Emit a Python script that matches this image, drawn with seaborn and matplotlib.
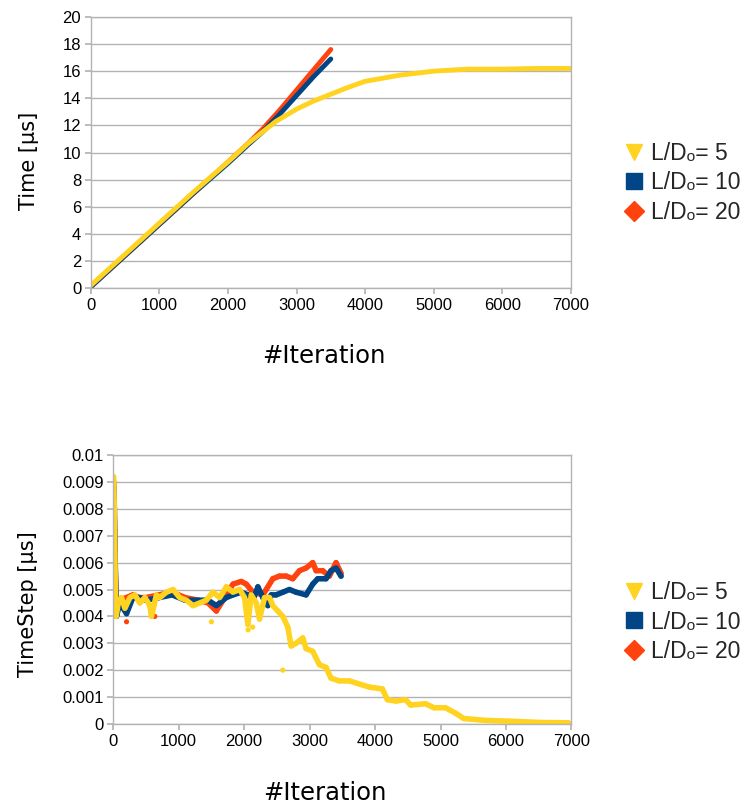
import numpy as np
import pandas as pd
import matplotlib
matplotlib.use("Agg")
import matplotlib.pyplot as plt
import seaborn as sns
from matplotlib.lines import Line2D

# ---------------- data ----------------
series_names = ["L/D\u2092= 5", "L/D\u2092= 10", "L/D\u2092= 20"]
colors = ["#ffd320", "#004586", "#ff420e"]
markers = ["v", "s", "D"]

# Top chart: Time [µs] vs iteration
it5_time = [0, 500, 1000, 1500, 2000, 2300, 2500, 2700, 3000, 3250, 3500, 3750, 4000, 4500, 5000, 5500, 6000, 6500, 7000]
t5_time = [0.2, 2.5, 4.8, 7.1, 9.3, 10.7, 11.5, 12.3, 13.2, 13.8, 14.3, 14.8, 15.25, 15.7, 16.0, 16.15, 16.15, 16.2, 16.2]
it10_time = [0, 500, 1000, 1500, 2000, 2300, 2500, 2750, 3000, 3250, 3500]
t10_time = [0.1, 2.4, 4.7, 7.0, 9.2, 10.6, 11.5, 12.8, 14.2, 15.6, 16.9]
it20_time = [0, 500, 1000, 1500, 2000, 2300, 2500, 2750, 3000, 3250, 3500]
t20_time = [0.1, 2.4, 4.7, 7.0, 9.3, 10.7, 11.7, 13.1, 14.6, 16.1, 17.6]

# Bottom chart: TimeStep [µs] vs iteration
it5_dt = [5, 10, 15, 20, 25, 30, 35, 45, 76, 127, 178, 254, 330, 406, 483, 559, 584, 660, 711,
          813, 914, 1016, 1118, 1219, 1321, 1422, 1524, 1626, 1727, 1829, 1930, 2007, 2057, 2108,
          2184, 2235, 2311, 2388, 2438, 2515, 2591, 2667, 2718, 2794, 2896, 2946, 3048, 3150,
          3251, 3327, 3454, 3607, 3909, 4112, 4188, 4315, 4467, 4543, 4772, 4899, 5076, 5228,
          5355, 5685, 6040, 6548, 6954]
dt5 = [0.0092, 0.0090, 0.0082, 0.0072, 0.0065, 0.0055, 0.0048, 0.0040, 0.0045, 0.0047, 0.0043,
       0.0047, 0.0048, 0.0045, 0.0047, 0.0044, 0.0040, 0.0048, 0.0047, 0.0049, 0.0050, 0.0047,
       0.0046, 0.0044, 0.0045, 0.0046, 0.0049, 0.0047, 0.0051, 0.0049, 0.0050, 0.0047, 0.0037,
       0.0048, 0.0045, 0.0039, 0.0047, 0.0047, 0.0044, 0.0042, 0.0040, 0.0036, 0.0029, 0.0030,
       0.0032, 0.0028, 0.0027, 0.0022, 0.0021, 0.0017, 0.0016, 0.0016, 0.00137, 0.0013, 0.0009,
       0.00085, 0.0009, 0.0007, 0.00075, 0.0006, 0.0006, 0.0004, 0.0002, 0.00013, 0.0001,
       0.00005, 0.00004]
it5_out = [1500, 2590, 2060, 2130]
dt5_out = [0.0038, 0.0020, 0.0035, 0.0036]

it10_dt = [5, 10, 15, 20, 30, 50, 100, 203, 300, 400, 500, 700, 900, 1100, 1300, 1450, 1575,
           1727, 1829, 1956, 2057, 2134, 2210, 2286, 2362, 2413, 2489, 2591, 2692, 2794, 2946,
           3048, 3124, 3251, 3327, 3404, 3480]
dt10 = [0.0090, 0.0088, 0.0083, 0.0075, 0.0060, 0.0040, 0.0045, 0.0041, 0.0047, 0.0047, 0.0046,
        0.0047, 0.0048, 0.0046, 0.0046, 0.0046, 0.0044, 0.0047, 0.0048, 0.0049, 0.0048, 0.0046,
        0.0051, 0.0047, 0.0044, 0.0048, 0.0048, 0.0049, 0.0050, 0.0049, 0.0048, 0.0052, 0.0054,
        0.0054, 0.0057, 0.0058, 0.0055]

it20_dt = [5, 10, 15, 20, 30, 50, 100, 300, 400, 500, 700, 900, 1100, 1300, 1450, 1575, 1727,
           1829, 1956, 2032, 2134, 2286, 2337, 2438, 2540, 2642, 2743, 2845, 2946, 3048, 3099,
           3200, 3302, 3404, 3480]
dt20 = [0.0088, 0.0086, 0.0080, 0.0072, 0.0058, 0.0042, 0.0046, 0.0048, 0.0047, 0.0047, 0.0048,
        0.0049, 0.0047, 0.0046, 0.0045, 0.0042, 0.0048, 0.0052, 0.0053, 0.0052, 0.0049, 0.0048,
        0.0050, 0.0054, 0.0055, 0.0055, 0.0054, 0.0057, 0.0058, 0.0060, 0.0057, 0.0057, 0.0055,
        0.0060, 0.0056]
it20_out = [203, 635]
dt20_out = [0.0038, 0.0040]

x_ticks = [0, 1000, 2000, 3000, 4000, 5000, 6000, 7000]
y_ticks_top = [0, 2, 4, 6, 8, 10, 12, 14, 16, 18, 20]
y_ticks_bot = [0, 0.001, 0.002, 0.003, 0.004, 0.005, 0.006, 0.007, 0.008, 0.009, 0.01]
y_tick_labels_bot = ["0", "0.001", "0.002", "0.003", "0.004", "0.005", "0.006", "0.007",
                     "0.008", "0.009", "0.01"]

# ---------------- plotting ----------------
sns.set_theme(style="white")
plt.rcParams["font.family"] = ["Liberation Sans", "DejaVu Sans"]

W, H = 745, 807
fig = plt.figure(figsize=(W / 100, H / 100), dpi=100)
ax1 = fig.add_axes([0.122, 0.643, 0.644, 0.336])
ax2 = fig.add_axes([0.152, 0.103, 0.615, 0.333])

grid_c = "#b3b3b3"

def style_axes(ax):
    ax.yaxis.grid(True, color=grid_c, linewidth=1.0)
    ax.xaxis.grid(False)
    ax.set_axisbelow(True)
    for s in ax.spines.values():
        s.set_color(grid_c)
        s.set_linewidth(1.0)
    ax.tick_params(axis="both", which="both", direction="out", length=4, color=grid_c,
                   labelsize=12, labelcolor="black", bottom=True, left=True, pad=3)

# Top chart
top_series = [(it20_time, t20_time, 2), (it10_time, t10_time, 1), (it5_time, t5_time, 0)]
for xs, ys, k in top_series:
    df = pd.DataFrame({"it": xs, "t": ys})
    sns.lineplot(data=df, x="it", y="t", ax=ax1, color=colors[k], linewidth=3.5,
                 estimator=None, sort=True, legend=False)
ax1.set_xlim(0, 7000)
ax1.set_ylim(0, 20)
ax1.set_xticks(x_ticks)
ax1.set_yticks(y_ticks_top)
style_axes(ax1)

# Bottom chart
bot_series = [(it20_dt, dt20, 2), (it10_dt, dt10, 1), (it5_dt, dt5, 0)]
for xs, ys, k in bot_series:
    df = pd.DataFrame({"it": xs, "dt": ys})
    sns.lineplot(data=df, x="it", y="dt", ax=ax2, color=colors[k], linewidth=4,
                 estimator=None, sort=True, legend=False)
    sns.scatterplot(data=df, x="it", y="dt", ax=ax2, color=colors[k], s=14,
                    edgecolor="none", legend=False)
sns.scatterplot(x=it20_out, y=dt20_out, ax=ax2, color=colors[2], s=14, edgecolor="none", legend=False)
sns.scatterplot(x=it5_out, y=dt5_out, ax=ax2, color=colors[0], s=14, edgecolor="none", legend=False)
ax2.set_xlim(0, 7000)
ax2.set_ylim(0, 0.01)
ax2.set_xticks(x_ticks)
ax2.set_yticks(y_ticks_bot)
ax2.set_yticklabels(y_tick_labels_bot)
style_axes(ax2)

# Axis titles (positioned like the reference)
lab_kw = dict(fontsize=17.5, family="DejaVu Sans", color="black")
ax1.set_xlabel("#Iteration", va="center", ha="center", **lab_kw)
ax1.xaxis.set_label_coords(0.485, -0.25)
ax2.set_xlabel("#Iteration", va="center", ha="center", **lab_kw)
ax2.xaxis.set_label_coords(0.461, -0.257)
ylab_kw = dict(fontsize=15, family="DejaVu Sans", color="black")
ax1.set_ylabel("Time [µs]", va="center", ha="center", **ylab_kw)
ax1.yaxis.set_label_coords(-0.13, 0.469)
ax2.set_ylabel("TimeStep [µs]", va="center", ha="center", **ylab_kw)
ax2.yaxis.set_label_coords(-0.185, 0.446)

handles = [Line2D([], [], linestyle="none", marker=markers[k], color=colors[k],
                  markersize=12 if k < 2 else 10) for k in range(3)]
for ybox in (1 - 183 / H, 1 - 622 / H):
    fig.legend(handles, series_names, loc="center left", bbox_to_anchor=(0.832, ybox),
               frameon=False, fontsize=16.5, handletextpad=0.15, labelspacing=0.28,
               handlelength=1.2, borderaxespad=0, borderpad=0)

fig.savefig("out.png", dpi=100, facecolor="white")
